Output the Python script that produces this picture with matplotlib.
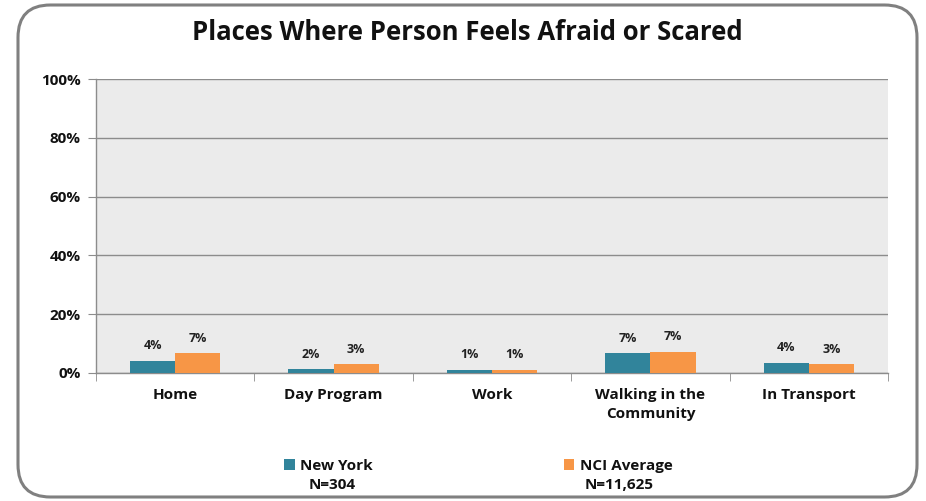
import matplotlib
matplotlib.use("Agg")
import matplotlib.pyplot as plt
import numpy as np
from matplotlib.patches import FancyBboxPatch
from matplotlib.ticker import FuncFormatter

plt.rcParams['font.family'] = ['Open Sans', 'DejaVu Sans']

categories = ["Home", "Day Program", "Work", "Walking in the\nCommunity", "In Transport"]
ny_values = [4.2, 1.4, 1.1, 6.7, 3.5]
nci_values = [6.8, 3.0, 1.1, 7.2, 3.1]
ny_labels = ["4%", "2%", "1%", "7%", "4%"]
nci_labels = ["7%", "3%", "1%", "7%", "3%"]
series_names = ["New York", "NCI Average"]
series_n = ["N=304", "N=11,625"]
yticks = [0, 20, 40, 60, 80, 100]

ny_color = "#31849B"
nci_color = "#F79646"
txt = "#111111"

fig = plt.figure(figsize=(9.26, 5.01), dpi=100)
ax = fig.add_axes([96/926, 1-373/501, (888-96)/926, (373-79)/501])

# rounded outer border
border = FancyBboxPatch((18/926, 4/501), (917-18)/926, (496-4)/501,
                        boxstyle="round,pad=0,rounding_size=0.035",
                        transform=fig.transFigure, facecolor="none",
                        edgecolor="#808080", linewidth=2.2, zorder=-5,
                        mutation_aspect=926/501)
fig.patches.append(border)

x = np.arange(len(categories))
w = 0.285
b1 = ax.bar(x - w/2, ny_values, w, color=ny_color, zorder=3, label=series_names[0])
b2 = ax.bar(x + w/2, nci_values, w, color=nci_color, zorder=3, label=series_names[1])

for bars, labs in ((b1, ny_labels), (b2, nci_labels)):
    for rect, lab in zip(bars, labs):
        ax.annotate(lab, (rect.get_x() + rect.get_width()/2, rect.get_height()),
                    xytext=(0, 6), textcoords="offset points", ha="center", va="bottom",
                    fontsize=9, fontweight="bold", color="#222222")

ax.set_facecolor("#EBEBEB")
ax.set_xlim(-0.5, len(categories) - 0.5)
ax.set_ylim(0, 100)
ax.set_yticks(yticks)
ax.yaxis.set_major_formatter(FuncFormatter(lambda v, p: f"{int(v)}%"))
ax.grid(axis="y", color="#8C8C8C", linewidth=1.0, zorder=0)
for s in ["top", "right"]:
    ax.spines[s].set_visible(False)
for s in ["left", "bottom"]:
    ax.spines[s].set_color("#8C8C8C")
    ax.spines[s].set_linewidth(1.0)

ax.set_xticks(x)
ax.set_xticklabels(categories, fontsize=11, fontweight="bold", color=txt, linespacing=1.45)
ax.tick_params(axis="x", length=0, pad=11)
ax.set_xticks(np.arange(len(categories) + 1) - 0.5, minor=True)
ax.tick_params(axis="x", which="minor", length=6, color="#8C8C8C", direction="out")
ax.tick_params(axis="y", length=6, color="#8C8C8C", pad=5, labelsize=11)
for t in ax.get_yticklabels():
    t.set_fontweight("bold")
    t.set_color(txt)

fig.text(467/926, 1-33/501, "Places Where Person Feels Afraid or Scared",
         ha="center", va="center", fontsize=18.5, fontweight="bold", color=txt)

leg = fig.legend(handles=[b1, b2], labels=series_names, loc="center left",
                 bbox_to_anchor=(284/926, 1-466/501), ncol=2, frameon=False,
                 handlelength=0.7, handleheight=0.7, handletextpad=0.35,
                 borderaxespad=0, borderpad=0,
                 columnspacing=12.5, prop={"weight": "bold", "size": 11})
for t in leg.get_texts():
    t.set_color(txt)
fig.text(332/926, 1-485/501, series_n[0], ha="center", va="center",
         fontsize=11, fontweight="bold", color=txt)
fig.text(619/926, 1-485/501, series_n[1], ha="center", va="center",
         fontsize=11, fontweight="bold", color=txt)

fig.savefig("out.png", dpi=100)
